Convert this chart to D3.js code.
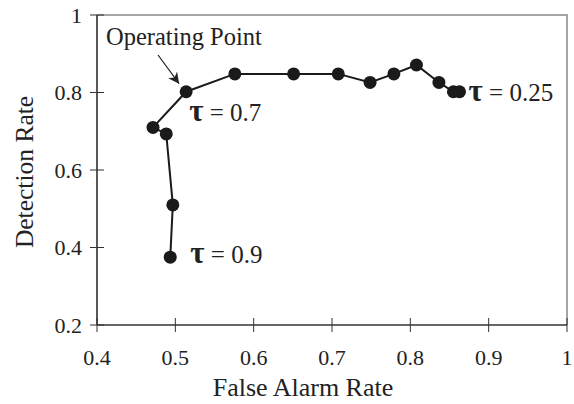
<!DOCTYPE html>
<html>
<head>
<meta charset="utf-8">
<script src="https://cdn.jsdelivr.net/npm/d3@7"></script>
<style>
  body { margin: 0; background: #fff; }
  text { font-family: "Liberation Serif", "DejaVu Serif", serif; fill: #222; }
</style>
</head>
<body>
<div class="render"></div>
<script>
// ROC-like curve, points ordered from tau = 0.9 to tau = 0.25
var falseAlarm = [0.4935, 0.4968, 0.4884, 0.4715, 0.5138, 0.576, 0.651, 0.708, 0.7486, 0.779, 0.8078, 0.8365, 0.855, 0.8628];
var detection  = [0.375, 0.51, 0.693, 0.71, 0.802, 0.848, 0.848, 0.848, 0.826, 0.848, 0.871, 0.826, 0.802, 0.802];
var xTicks = [0.4, 0.5, 0.6, 0.7, 0.8, 0.9, 1];
var yTicks = [0.2, 0.4, 0.6, 0.8, 1];
var tauLabels = [
    { idx: 0, text: "0.9", dx: 20, dy: -3 },
    { idx: 4, text: "0.7", dx: 3, dy: 21 },
    { idx: 13, text: "0.25", dx: 9, dy: 1 }
];

var width = 574, height = 404;
var margin = { top: 15, right: 4, bottom: 79, left: 97 };

var x = d3.scaleLinear().domain([0.4, 1]).range([margin.left, width - margin.right - 3]);
var y = d3.scaleLinear().domain([0.2, 1]).range([height - margin.bottom, margin.top]);

var svg = d3.select(".render").append("svg")
    .attr("width", width).attr("height", height);

// frame top and right
svg.append("path")
    .attr("d", "M" + x(0.4) + "," + y(1) + "H" + x(1) + "V" + y(0.2))
    .attr("fill", "none").attr("stroke", "#888").attr("stroke-width", 1.5);

// axes lines
svg.append("line")
    .attr("x1", x(0.4)).attr("x2", x(1)).attr("y1", y(0.2)).attr("y2", y(0.2))
    .attr("stroke", "#333").attr("stroke-width", 1.5);
svg.append("line")
    .attr("x1", x(0.4)).attr("x2", x(0.4)).attr("y1", y(0.2)).attr("y2", y(1))
    .attr("stroke", "#222").attr("stroke-width", 1.5);

// ticks crossing the axes
svg.selectAll("line.xt").data(xTicks).enter().append("line")
    .attr("class", "xt")
    .attr("x1", function(d) { return x(d); }).attr("x2", function(d) { return x(d); })
    .attr("y1", y(0.2) - 7).attr("y2", y(0.2) + 7)
    .attr("stroke", "#333").attr("stroke-width", 1);
svg.selectAll("line.yt").data(yTicks).enter().append("line")
    .attr("class", "yt")
    .attr("y1", function(d) { return y(d); }).attr("y2", function(d) { return y(d); })
    .attr("x1", x(0.4) - 7).attr("x2", x(0.4) + 7)
    .attr("stroke", "#333").attr("stroke-width", 1);

svg.selectAll("text.xl").data(xTicks).enter().append("text")
    .attr("class", "xl")
    .attr("x", function(d) { return x(d); })
    .attr("y", y(0.2) + 40)
    .attr("text-anchor", "middle")
    .attr("font-size", 22)
    .text(function(d) { return d === 1 ? "1" : d3.format(".1f")(d); });
svg.selectAll("text.yl").data(yTicks).enter().append("text")
    .attr("class", "yl")
    .attr("x", x(0.4) - 15)
    .attr("y", function(d) { return y(d); })
    .attr("dy", "0.35em")
    .attr("text-anchor", "end")
    .attr("font-size", 22)
    .text(function(d) { return d === 1 ? "1" : d3.format(".1f")(d); });

// axis titles
svg.append("text")
    .attr("x", 303).attr("y", 396)
    .attr("text-anchor", "middle").attr("font-size", 26)
    .text("False Alarm Rate");
svg.append("text")
    .attr("transform", "translate(33,172) rotate(-90)")
    .attr("text-anchor", "middle").attr("font-size", 25.5)
    .text("Detection Rate");

// curve
var pts = falseAlarm.map(function(d, i) { return [d, detection[i]]; });
var line = d3.line().x(function(d) { return x(d[0]); }).y(function(d) { return y(d[1]); });
svg.append("path")
    .datum(pts)
    .attr("d", line)
    .attr("fill", "none").attr("stroke", "#1a1a1a").attr("stroke-width", 2);
svg.selectAll("circle.pt").data(pts).enter().append("circle")
    .attr("class", "pt")
    .attr("cx", function(d) { return x(d[0]); })
    .attr("cy", function(d) { return y(d[1]); })
    .attr("r", 6.5)
    .attr("fill", "#1a1a1a");

// tau labels
tauLabels.forEach(function(t) {
    var p = pts[t.idx];
    var lab = svg.append("text")
        .attr("x", x(p[0]) + t.dx)
        .attr("y", y(p[1]) + t.dy)
        .attr("dy", "0.35em")
        .attr("font-size", 25);
    lab.append("tspan").attr("font-weight", "bold").attr("font-size", 31).text("\u03c4");
    lab.append("tspan").text(" = " + t.text);
});

// operating point annotation
svg.append("defs").append("marker")
    .attr("id", "arr").attr("viewBox", "0 0 10 10")
    .attr("refX", 10).attr("refY", 5)
    .attr("markerWidth", 11).attr("markerHeight", 11)
    .attr("markerUnits", "userSpaceOnUse")
    .attr("orient", "auto")
    .append("path").attr("d", "M0,0 L10,5 L0,10 L3,5 Z").attr("fill", "#222");
svg.append("line")
    .attr("x1", 158).attr("y1", 55)
    .attr("x2", x(pts[4][0]) - 7).attr("y2", y(pts[4][1]) - 8)
    .attr("stroke", "#222").attr("stroke-width", 1.2)
    .attr("marker-end", "url(#arr)");
svg.append("text")
    .attr("x", 106).attr("y", 45)
    .attr("font-size", 24.5)
    .text("Operating Point");
</script>
</body>
</html>
